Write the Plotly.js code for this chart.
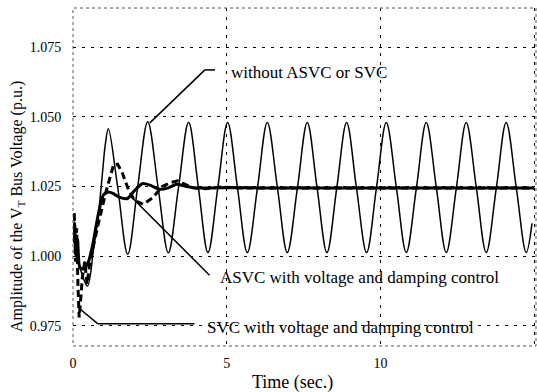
<!DOCTYPE html>
<html>
<head>
<meta charset="utf-8">
<script src="https://cdn.plot.ly/plotly-3.0.1.min.js"></script>
<style>html,body{margin:0;padding:0;background:#fff;}#chart{width:537px;height:392px;}</style>
</head>
<body>
<div id="chart"></div>
<script>
// Without ASVC or SVC (thin solid)
var tNone = [0, 0.1, 0.25, 0.47, 0.67, 0.83, 0.96, 1.05, 1.15, 1.45, 1.78, 2.10, 2.43, 2.77, 3.10, 3.43, 3.76, 4.08, 4.39, 4.71, 5.03, 5.35, 5.67, 6.00, 6.32, 6.65, 6.97, 7.30, 7.62, 7.94, 8.26, 8.58, 8.90, 9.22, 9.55, 9.87, 10.19, 10.52, 10.84, 11.17, 11.49, 11.82, 12.14, 12.47, 12.79, 13.12, 13.44, 13.77, 14.09, 14.42, 14.74, 14.93];
var vNone = [1.006, 1.003, 0.995, 0.9893, 1.0027, 1.0155, 1.030, 1.040, 1.0457, 1.025, 1.0007, 1.0245, 1.0482, 1.0245, 1.0012, 1.0245, 1.0480, 1.0245, 1.0013, 1.0245, 1.0479, 1.0245, 1.0013, 1.0245, 1.0479, 1.0245, 1.0013, 1.0245, 1.0479, 1.0245, 1.0013, 1.0245, 1.0479, 1.0245, 1.0013, 1.0245, 1.0479, 1.0245, 1.0013, 1.0245, 1.0479, 1.0245, 1.0013, 1.0245, 1.0479, 1.0245, 1.0013, 1.0245, 1.0479, 1.0245, 1.0013, 1.0118];

// SVC with voltage and damping control (thick dashed)
var tSVC = [0, 0.04, 0.08, 0.12, 0.16, 0.2, 0.24, 0.3, 0.38, 0.46, 0.55, 0.7, 0.83, 1.06, 1.32, 1.45, 1.6, 1.8, 2.0, 2.28, 2.6, 2.9, 3.2, 3.4, 3.7, 3.9, 4.3, 4.8, 5.5, 15];
var vSVC = [1.005, 1.016, 0.998, 1.010, 0.990, 0.978, 0.983, 0.992, 0.998, 0.990, 0.998, 1.006, 1.012, 1.0226, 1.0328, 1.033, 1.030, 1.024, 1.020, 1.0186, 1.021, 1.025, 1.0265, 1.027, 1.0255, 1.0245, 1.0242, 1.0248, 1.0245, 1.0245];

// ASVC with voltage and damping control (thick solid)
var tASVC = [0, 0.05, 0.1, 0.15, 0.22, 0.34, 0.5, 0.63, 0.83, 0.99, 1.15, 1.3, 1.5, 1.77, 2.0, 2.25, 2.5, 2.81, 3.1, 3.36, 3.7, 4.0, 4.5, 5, 6, 15];
var vASVC = [1.005, 1.012, 1.000, 1.006, 0.996, 0.9954, 0.998, 1.0035, 1.0155, 1.022, 1.023, 1.0225, 1.0212, 1.0207, 1.0235, 1.026, 1.0255, 1.024, 1.0245, 1.0258, 1.025, 1.0245, 1.0245, 1.0246, 1.0245, 1.0245];

var yTicks = [0.975, 1.000, 1.025, 1.050, 1.075];
var yTickText = ['0.975', '1.000', '1.025', '1.050', '1.075'];
var xTicks = [0, 5, 10, 15];

var serif = 'Liberation Serif, Times New Roman, serif';

var traces = [
  {x: tNone, y: vNone, type: 'scatter', mode: 'lines', line: {color: '#000', width: 1.5, shape: 'spline', smoothing: 1}},
  {x: tSVC, y: vSVC, type: 'scatter', mode: 'lines', line: {color: '#000', width: 3, dash: '7px,4px'}},
  {x: tASVC, y: vASVC, type: 'scatter', mode: 'lines', line: {color: '#000', width: 3, shape: 'spline', smoothing: 0.6}}
];

var layout = {
  width: 537, height: 392,
  margin: {l: 73, r: 1, t: 8, b: 46},
  paper_bgcolor: '#fff', plot_bgcolor: '#fff',
  showlegend: false,
  font: {family: serif, color: '#000', size: 14},
  xaxis: {
    range: [0, 15.06], tickvals: xTicks, ticktext: ['0', '5', '10', '15'],
    showgrid: true, gridcolor: '#000', gridwidth: 1, griddash: '3px,6px',
    zeroline: false, showline: false,
    ticks: 'outside', ticklen: 4, tickcolor: 'rgba(0,0,0,0)',
    tickfont: {family: serif, size: 14, color: '#000'}
  },
  yaxis: {
    range: [0.9678, 1.0890], tickvals: yTicks, ticktext: yTickText,
    showgrid: true, gridcolor: '#000', gridwidth: 1, griddash: '3px,6px',
    zeroline: false, showline: false,
    ticks: 'outside', ticklen: 8, tickcolor: 'rgba(0,0,0,0)',
    tickfont: {family: serif, size: 14, color: '#000'}
  },
  shapes: [
    {type: 'rect', xref: 'paper', yref: 'paper', x0: 0, x1: 1, y0: 0, y1: 1, line: {color: '#555', width: 1, dash: 'dot'}},
    {type: 'line', xref: 'x', yref: 'y', x0: 2.5, y0: 1.0478, x1: 4.29, y1: 1.0668, line: {color: '#000', width: 1.5}},
    {type: 'line', xref: 'x', yref: 'y', x0: 4.29, y0: 1.0668, x1: 4.62, y1: 1.0668, line: {color: '#000', width: 1.5}},
    {type: 'line', xref: 'x', yref: 'y', x0: 1.9, y0: 1.0212, x1: 4.44, y1: 0.9932, line: {color: '#000', width: 1.5}},
    {type: 'line', xref: 'x', yref: 'y', x0: 0.18, y0: 0.9815, x1: 0.8, y1: 0.9758, line: {color: '#000', width: 1.5}},
    {type: 'line', xref: 'x', yref: 'y', x0: 0.8, y0: 0.9758, x1: 3.95, y1: 0.9758, line: {color: '#000', width: 1.5}}
  ],
  annotations: [
    {x: 5.07, y: 1.0657, xref: 'x', yref: 'y', text: 'without ASVC or SVC', showarrow: false, xanchor: 'left', yanchor: 'middle', font: {family: serif, size: 17, color: '#000'}},
    {x: 4.70, y: 0.9925, xref: 'x', yref: 'y', text: 'ASVC with voltage and damping control', showarrow: false, xanchor: 'left', yanchor: 'middle', font: {family: serif, size: 17, color: '#000'}},
    {x: 4.28, y: 0.9743, xref: 'x', yref: 'y', text: 'SVC with voltage and damping control', showarrow: false, xanchor: 'left', yanchor: 'middle', font: {family: serif, size: 17, color: '#000'}},
    {x: -0.121, y: 0.414, xref: 'paper', yref: 'paper', text: 'Amplitude of the V<sub>T</sub> Bus Voltage (p.u.)', textangle: -90, showarrow: false, xanchor: 'center', yanchor: 'middle', font: {family: serif, size: 16, color: '#000'}},
    {x: 0.475, y: 382, xref: 'paper', yref: 'paper', yshift: 0, text: 'Time (sec.)', showarrow: false, xanchor: 'center', yanchor: 'middle', font: {family: serif, size: 18, color: '#000'}}
  ]
};
// place x title in paper coords: pixel y 382 -> paper
layout.annotations[4].y = (346 - 382) / 338;

Plotly.newPlot('chart', traces, layout, {displayModeBar: false, staticPlot: true});
</script>
</body>
</html>
